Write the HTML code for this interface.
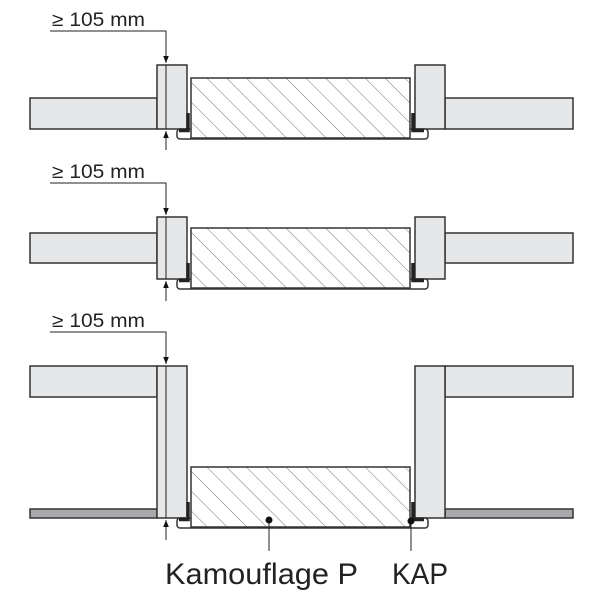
<!DOCTYPE html>
<html><head><style>html,body{margin:0;padding:0;background:#fff}svg{display:block}</style></head>
<body>
<svg width="600" height="600" viewBox="0 0 600 600" xmlns="http://www.w3.org/2000/svg" font-family="Liberation Sans, sans-serif">
<defs>
<pattern id="h" patternUnits="userSpaceOnUse" width="14" height="14" patternTransform="rotate(-45)">
<rect width="14" height="14" fill="#fff"/>
<line x1="0" y1="0" x2="0" y2="14" stroke="#777" stroke-width="1"/>
</pattern>
<g id="pan">
<rect x="177" y="0" width="251" height="10" rx="3" fill="#fff" stroke="#333" stroke-width="1.5"/>
<rect x="191" y="-51" width="219" height="60" fill="url(#h)" stroke="#333" stroke-width="1.5"/>
<path d="M188 -16 V1.5 H179" fill="none" stroke="#222" stroke-width="3.5"/>
<path d="M413 -16 V1.5 H424" fill="none" stroke="#222" stroke-width="3.5"/>
</g>
<marker id="a" viewBox="0 0 10 10" refX="10" refY="5" markerWidth="7" markerHeight="9" orient="auto"><path d="M0 1L10 5L0 9z" fill="#111"/></marker>
</defs>
<g stroke="#333" stroke-width="1.5" fill="#e6e7e8">
<rect x="30" y="98" width="127" height="31"/>
<rect x="445" y="98" width="128" height="31"/>
<rect x="157" y="65" width="30" height="64"/>
<rect x="415" y="65" width="30" height="64"/>
<rect x="30" y="233" width="127" height="30"/>
<rect x="445" y="233" width="128" height="30"/>
<rect x="157" y="217" width="30" height="62"/>
<rect x="415" y="217" width="30" height="62"/>
<rect x="30" y="366" width="127" height="31"/>
<rect x="445" y="366" width="128" height="31"/>
<rect x="30" y="509" width="127" height="9" fill="#a7a9ac"/>
<rect x="445" y="509" width="128" height="9" fill="#a7a9ac"/>
<rect x="157" y="366" width="30" height="152"/>
<rect x="415" y="366" width="30" height="152"/>
</g>
<use href="#pan" transform="translate(0,129)"/>
<use href="#pan" transform="translate(0,279)"/>
<use href="#pan" transform="translate(0,518)"/>
<g stroke="#222" stroke-width="1" fill="none">
<path d="M50 31H166V63" marker-end="url(#a)"/>
<line x1="166" y1="65" x2="166" y2="129"/>
<path d="M166 150V131" marker-end="url(#a)"/>
<path d="M50 183H166V215" marker-end="url(#a)"/>
<line x1="166" y1="217" x2="166" y2="279"/>
<path d="M166 301V281" marker-end="url(#a)"/>
<path d="M50 332H166V364" marker-end="url(#a)"/>
<line x1="166" y1="366" x2="166" y2="518"/>
<path d="M166 540V520" marker-end="url(#a)"/>
<line x1="269" y1="520" x2="269" y2="551"/>
<line x1="411" y1="521" x2="411" y2="551"/>
</g>
<circle cx="269" cy="520" r="3.5" fill="#111"/>
<circle cx="411" cy="521" r="3.5" fill="#111"/>
<g fill="#222" font-size="19">
<text x="52" y="26" textLength="93" lengthAdjust="spacingAndGlyphs">≥ 105 mm</text>
<text x="52" y="178" textLength="93" lengthAdjust="spacingAndGlyphs">≥ 105 mm</text>
<text x="52" y="327" textLength="93" lengthAdjust="spacingAndGlyphs">≥ 105 mm</text>
</g>
<text x="165" y="584" font-size="30" fill="#222" textLength="193" lengthAdjust="spacingAndGlyphs">Kamouflage P</text>
<text x="392" y="584" font-size="30" fill="#222" textLength="56" lengthAdjust="spacingAndGlyphs">KAP</text>
</svg>
</body></html>
